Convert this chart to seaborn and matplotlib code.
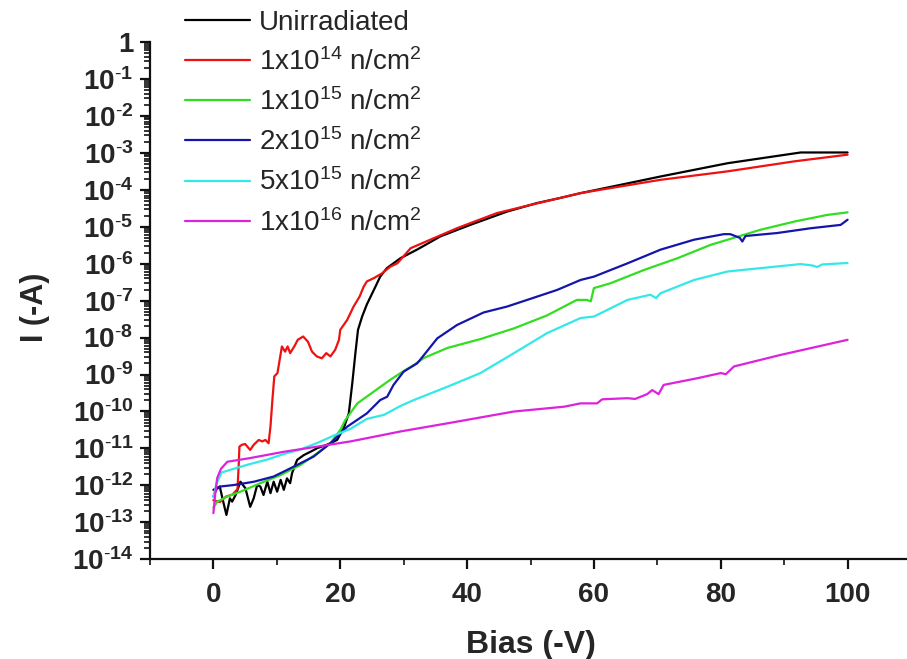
import numpy as np
import pandas as pd
import matplotlib
matplotlib.use("Agg")
import matplotlib.pyplot as plt
import seaborn as sns
from matplotlib.ticker import LogLocator, FixedLocator, NullFormatter, FixedFormatter

# ---------------- data (log10 of current in A) ----
labels = ["Unirradiated",
          r"1x10$^{14}$ n/cm$^{2}$",
          r"1x10$^{15}$ n/cm$^{2}$",
          r"2x10$^{15}$ n/cm$^{2}$",
          r"5x10$^{15}$ n/cm$^{2}$",
          r"1x10$^{16}$ n/cm$^{2}$"]
colors = ["#000000", "#ee1111", "#33dd22", "#1515aa", "#33e8e8", "#dd22dd"]

unirr_x = [0, 1.0, 1.6, 2.05, 2.6, 2.95, 3.5, 4.26, 5.05, 5.8, 6.35, 6.9, 7.4, 7.9, 8.5,
           9.0, 9.5, 10.05, 10.6, 11.1, 11.6, 12.1, 12.4, 13.2, 14.25, 15.3, 16.4, 17.9,
           19.5, 20.55, 21.35, 21.9, 22.4, 22.8, 23.45, 24.2, 25.3, 26.3, 27.35, 29.5,
           32.1, 35.8, 40.5, 46.3, 51, 54.7, 57.9, 61, 70.5, 81.1, 92.6, 100]
unirr_log = [-12.12, -12.03, -12.48, -12.80, -12.35, -12.44, -12.26, -11.90, -12.08, -12.58,
             -12.35, -11.99, -12.03, -12.26, -11.90, -12.21, -11.90, -12.17, -11.85, -12.12,
             -11.81, -11.94, -11.67, -11.31, -11.18, -11.09, -10.99, -10.90, -10.77, -10.45,
             -10.05, -9.23, -8.40, -7.79, -7.43, -7.10, -6.71, -6.35, -6.12, -5.85,
             -5.62, -5.26, -4.95, -4.59, -4.36, -4.22, -4.09, -3.98, -3.64, -3.28, -2.99, -2.99]

f14_x = [0, 1.0, 2.0, 3.0, 3.8, 4.0, 4.1, 4.5, 5.0, 5.8, 6.36, 7.15, 7.7, 8.2, 8.7, 9.0, 9.3,
         9.6, 10.1, 10.8, 11.3, 11.7, 12.1, 12.75, 13.3, 14.15, 14.9, 15.55, 16.3, 17.1,
         17.8, 18.45, 19.2, 19.8, 20.0, 21.1, 22.1, 23.05, 23.7, 24.2, 25.3, 26.6, 27.9,
         29.0, 31.1, 34.2, 38.4, 44.7, 50, 54.7, 57.9, 61, 70.5, 81.1, 91.6, 100]
f14_log = [-12.4, -12.45, -12.3, -12.25, -12.1, -11.4, -10.95, -10.90, -10.88, -11.04,
           -10.90, -10.77, -10.81, -10.77, -10.86, -10.40, -9.69, -9.05, -8.96, -8.24,
           -8.38, -8.24, -8.42, -8.24, -8.06, -7.97, -8.11, -8.38, -8.51, -8.56, -8.42,
           -8.51, -8.33, -8.06, -7.79, -7.52, -7.16, -6.89, -6.62, -6.48, -6.39, -6.26,
           -6.08, -5.99, -5.58, -5.35, -5.04, -4.63, -4.41, -4.22, -4.09, -4.0, -3.73,
           -3.50, -3.23, -3.05]

f15_x = [0, 0.6, 2.2, 4.26, 7.4, 10.6, 13.7, 16.35, 18.45, 20.0, 20.8, 22.7, 25.3, 27.9,
         29.5, 31.6, 33.2, 36.9, 42.1, 47.4, 52.6, 57.3, 58.9, 59.5, 60.0, 62.6, 67.9,
         73.2, 78.4, 81.1, 86.3, 91.6, 96.8, 100]
f15_log = [-12.6, -12.44, -12.30, -12.17, -11.94, -11.72, -11.45, -11.13, -10.86, -10.50,
           -10.23, -9.78, -9.46, -9.14, -8.96, -8.74, -8.55, -8.28, -8.04, -7.75, -7.40,
           -6.98, -6.98, -7.02, -6.66, -6.53, -6.17, -5.85, -5.49, -5.35, -5.08, -4.86,
           -4.68, -4.61]

f2e15_x = [0, 0.5, 1.1, 3.2, 6.4, 9.5, 12.7, 15.8, 18.45, 21.1, 24.2, 26.3, 27.4, 28.4,
           30.0, 32.1, 32.6, 35.3, 38.4, 42.6, 46.3, 50, 54.2, 57.9, 60, 65.3, 70.5, 75.8,
           80.5, 81.5, 83.0, 83.4, 83.9, 88.9, 94.2, 98.9, 100]
f2e15_log = [-12.3, -12.1, -12.03, -11.99, -11.90, -11.76, -11.49, -11.22, -10.86, -10.41,
             -10.05, -9.69, -9.60, -9.28, -8.92, -8.70, -8.60, -8.02, -7.66, -7.32, -7.16,
             -6.95, -6.71, -6.44, -6.35, -5.99, -5.62, -5.35, -5.20, -5.20, -5.30, -5.40,
             -5.25, -5.17, -5.04, -4.95, -4.81]

f5e15_x = [0, 0.5, 1.3, 3.2, 5.8, 8.5, 11.1, 13.7, 16.4, 19.0, 21.6, 24.2, 26.9, 29.5,
           31.6, 36.9, 42.1, 47.4, 52.6, 57.9, 60, 65.3, 68.9, 69.8, 70.5, 75.8, 81.1,
           86.3, 92.6, 94.5, 95.2, 96, 100]
f5e15_log = [-12.3, -11.95, -11.65, -11.55, -11.42, -11.3, -11.15, -11.03, -10.85, -10.65,
             -10.47, -10.2, -10.09, -9.85, -9.69, -9.33, -8.96, -8.42, -7.88, -7.47, -7.43,
             -6.98, -6.84, -6.93, -6.80, -6.44, -6.21, -6.12, -6.01, -6.05, -6.09, -6.02,
             -5.98]

f16_x = [0, 0.3, 0.6, 1.2, 2.2, 5.8, 11.1, 16.4, 21.6, 26.9, 29.5, 36.9, 47.4, 55.3, 57.9,
         60.5, 61.3, 65.3, 66.5, 68.4, 69.2, 70.2, 71.0, 76.3, 80.0, 80.8, 82.1, 89.4, 100]
f16_log = [-12.75, -12.2, -11.8, -11.55, -11.36, -11.26, -11.09, -10.95, -10.81, -10.63,
           -10.54, -10.32, -10.0, -9.87, -9.78, -9.78, -9.67, -9.64, -9.66, -9.53, -9.42,
           -9.53, -9.28, -9.10, -8.96, -8.99, -8.78, -8.47, -8.06]

series_x = [unirr_x, f14_x, f15_x, f2e15_x, f5e15_x, f16_x]
series_log = [unirr_log, f14_log, f15_log, f2e15_log, f5e15_log, f16_log]

ytick_exps = list(range(0, -15, -1))
ytick_labels = ["1"] + [r"$\mathbf{10^{\text{-}%d}}$" % (-e) for e in ytick_exps[1:]]
xticks = [0, 20, 40, 60, 80, 100]

# ---------------- build table ----------------
frames = []
for lab, xs, ls in zip(labels, series_x, series_log):
    frames.append(pd.DataFrame({"Bias": xs, "I": np.power(10.0, ls), "series": lab}))
df = pd.concat(frames, ignore_index=True)

# ---------------- style ----------------
sns.set_style("ticks")
plt.rcParams["font.family"] = ["Liberation Sans", "DejaVu Sans"]
plt.rcParams["mathtext.fontset"] = "custom"
plt.rcParams["mathtext.rm"] = "Liberation Sans"
plt.rcParams["mathtext.it"] = "Liberation Sans:italic"
plt.rcParams["mathtext.bf"] = "Liberation Sans:bold"

W, H = 907, 659
fig = plt.figure(figsize=(W / 100, H / 100), dpi=100)
ax_left, ax_right, ax_top, ax_bottom = 150, 911, 42, 559.3
ax = fig.add_axes([ax_left / W, 1 - ax_bottom / H, (ax_right - ax_left) / W,
                   (ax_bottom - ax_top) / H])

sns.lineplot(data=df, x="Bias", y="I", hue="series", hue_order=labels,
             palette=dict(zip(labels, colors)), sort=False, estimator=None,
             units="series", linewidth=1.6, ax=ax, legend=True)

ax.set_yscale("log")
ax.set_xlim(-10, 110)
ax.set_ylim(1e-14, 1)

ax.yaxis.set_major_locator(FixedLocator([10.0 ** e for e in ytick_exps]))
ax.yaxis.set_major_formatter(FixedFormatter(ytick_labels))
ax.yaxis.set_minor_locator(LogLocator(base=10, subs=np.arange(2, 10), numticks=100))
ax.yaxis.set_minor_formatter(NullFormatter())
ax.xaxis.set_major_locator(FixedLocator(xticks))
ax.xaxis.set_minor_locator(FixedLocator([-10, 10, 30, 50, 70, 90, 110]))

for side in ["top", "right"]:
    ax.spines[side].set_visible(False)
for side in ["left", "bottom"]:
    ax.spines[side].set_linewidth(1.6)
    ax.spines[side].set_color("#111111")

ax.tick_params(axis="both", which="major", direction="out", length=7, width=1.6,
               labelsize=20, color="#111111")
ax.tick_params(axis="both", which="minor", direction="out", length=4, width=1.2,
               color="#111111")
ax.tick_params(axis="y", which="major", pad=5)
ax.tick_params(axis="x", which="major", pad=9)
for t in ax.get_xticklabels() + ax.get_yticklabels():
    t.set_fontweight("bold")

ax.set_xlabel("Bias (-V)", fontsize=23, fontweight="bold")
ax.set_ylabel("I (-A)", fontsize=22, fontweight="bold")
ax.xaxis.set_label_coords(0.5, -0.136)
ax.yaxis.set_label_coords(-0.131, 0.4875)

handles, labs = ax.get_legend_handles_labels()
for h in handles:
    h.set_linewidth(1.6)
leg = ax.legend(handles, labs, loc="upper left", frameon=False,
                bbox_to_anchor=(185 / W, 1 - 9.5 / H), bbox_transform=fig.transFigure,
                fontsize=20, handlelength=2.35, handletextpad=0.3, borderpad=0,
                borderaxespad=0, labelspacing=0.447)

fig.savefig("out.png", dpi=100, facecolor="white")
